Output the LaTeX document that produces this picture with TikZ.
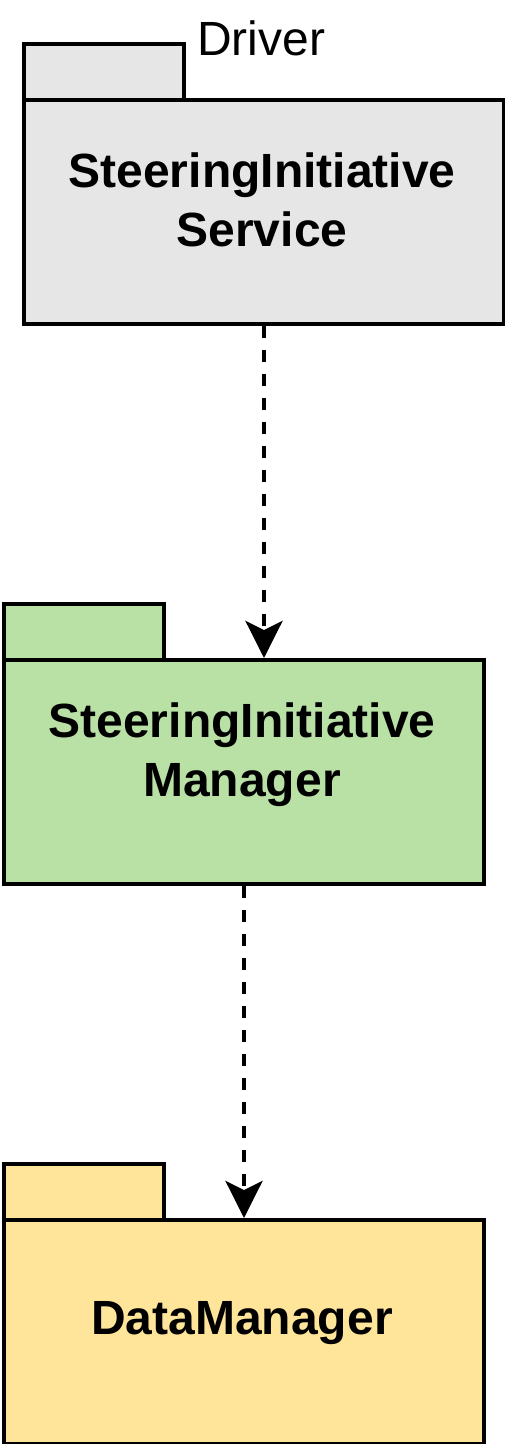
\documentclass[tikz,border=0pt]{standalone}
\usepackage{fontspec}
\setmainfont{Liberation Sans}
\usetikzlibrary{arrows.meta}
\definecolor{pkggray}{HTML}{E6E6E6}
\definecolor{pkggreen}{HTML}{B9E0A5}
\definecolor{pkgyellow}{HTML}{FFE599}
\begin{document}
\begin{tikzpicture}[x=1pt,y=-1pt,
  pkgbody/.style={draw=black, line width=4pt, minimum width=480pt, minimum height=224pt, inner sep=0pt, anchor=north west},
  pkgtab/.style={draw=black, line width=4pt, minimum width=160pt, minimum height=56pt, inner sep=0pt, anchor=north west},
  pkglabel/.style={font=\bfseries\fontsize{48}{59}\selectfont, align=center, inner sep=0pt},
  pkgname/.style={font=\fontsize{48}{57.6}\selectfont, anchor=base west, inner sep=0pt},
  dep/.style={line width=4pt, dash pattern=on 12pt off 12pt, -{Stealth[length=37pt,width=37pt,inset=9pt]}}]
\useasboundingbox (0,0) rectangle (504,1444);
% package 1
\node[pkgtab, fill=pkggray] (t1) at (22,42) {};
\node[pkgbody, fill=pkggray] (b1) at (22,98) {};
\node[pkglabel] (l1) at (262,199.5) {SteeringInitiative\\Service};
\node[pkgname] (n1) at (197,55) {Driver};
% package 2
\node[pkgtab, fill=pkggreen] (t2) at (2,602) {};
\node[pkgbody, fill=pkggreen] (b2) at (2,658) {};
\node[pkglabel] (l2) at (242,755) {SteeringInitiative\\Manager};
% package 3
\node[pkgtab, fill=pkgyellow] (t3) at (2,1162) {};
\node[pkgbody, fill=pkgyellow] (b3) at (2,1218) {};
\node[pkglabel] (l3) at (242,1322.7) {DataManager};
% dependencies
\draw[dep] (b1.south) -- (b1.south |- b2.north);
\draw[dep] (b2.south) -- (b3.north);
\end{tikzpicture}
\end{document}
